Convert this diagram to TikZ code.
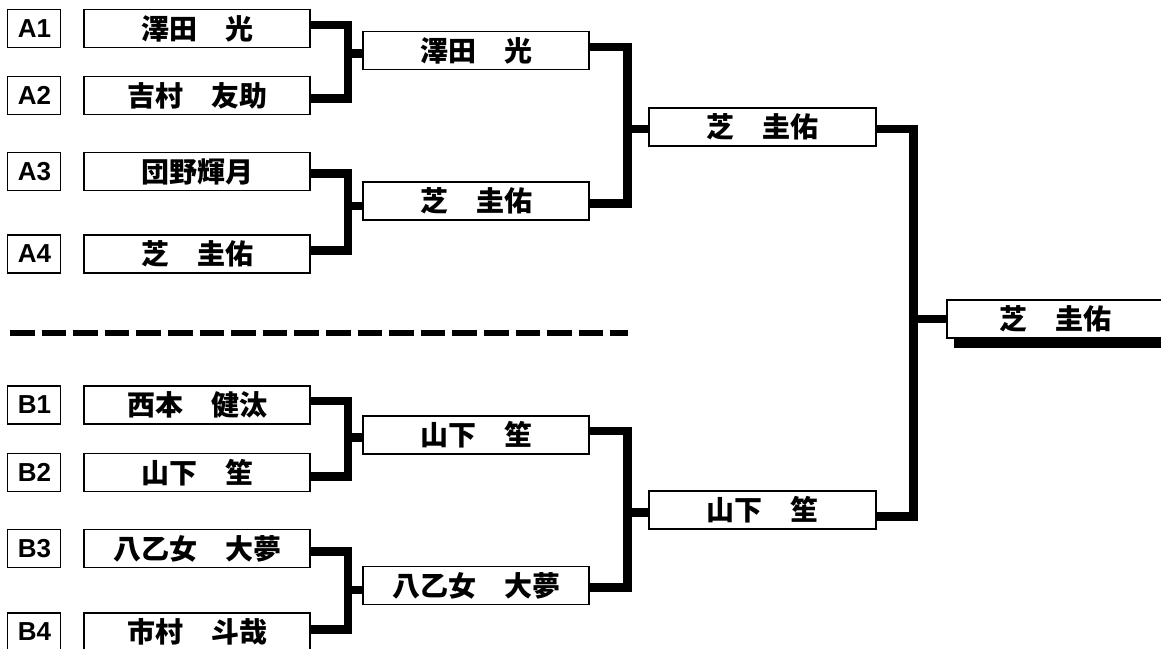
\documentclass[tikz,border=0pt]{standalone}
\usepackage{fontspec}
\setmainfont{Liberation Sans}
\newfontfamily\cjk{Noto Sans CJK JP}
\usetikzlibrary{positioning}

\begin{document}
\begin{tikzpicture}[x=1pt, y=-1pt]

    % Define block styles
    \tikzstyle{seed} = [rectangle, draw, line width=1.1pt, minimum width=53pt,
        minimum height=38pt, inner sep=0pt, text depth=0pt,
        font=\bfseries\fontsize{26pt}{26pt}\selectfont]
    \tikzstyle{player} = [rectangle, draw, line width=1.1pt, minimum width=226pt,
        minimum height=38pt, inner sep=0pt, font=\cjk\bfseries\fontsize{28pt}{28pt}\selectfont]
    \tikzstyle{conn} = [draw, line width=8.5pt, line join=miter]

    \useasboundingbox (0,0) rectangle (1161,648);

    % First round
    \node [player] (a1) at (197,28.5) {澤田　光};
    \node [player] (a2) at (197,95.5) {吉村　友助};
    \node [player] (a3) at (197,171.5) {団野輝月};
    \node [player] (a4) at (197,254) {芝　圭佑};
    \node [player] (b1) at (197,405) {西本　健汰};
    \node [player] (b2) at (197,472.5) {山下　笙};
    \node [player] (b3) at (197,548.5) {八乙女　大夢};
    \node [player] (b4) at (197,632) {市村　斗哉};

    \node [seed, left=22pt of a1] (sa1) {A1};
    \node [seed, left=22pt of a2] (sa2) {A2};
    \node [seed, left=22pt of a3] (sa3) {A3};
    \node [seed, left=22pt of a4] (sa4) {A4};
    \node [seed, left=22pt of b1] (sb1) {B1};
    \node [seed, left=22pt of b2] (sb2) {B2};
    \node [seed, left=22pt of b3] (sb3) {B3};
    \node [seed, left=22pt of b4] (sb4) {B4};

    % Second round
    \node [player] (s1) at (476,50.5) {澤田　光};
    \node [player] (s2) at (476,201) {芝　圭佑};
    \node [player] (s3) at (476,435) {山下　笙};
    \node [player] (s4) at (476,585.5) {八乙女　大夢};

    % Semifinal and final
    \node [player, minimum width=227pt] (f1) at (762.5,127) {芝　圭佑};
    \node [player, minimum width=227pt] (f2) at (762.5,510) {山下　笙};
    \node [player, minimum width=216pt] (win) at (1055,319) {芝　圭佑};
    \path [draw, line width=9pt] ([xshift=8pt, yshift=-4.5pt]win.south west)
        -- ([xshift=20pt, yshift=-4.5pt]win.south east);

    % Junctions
    \coordinate (ja1) at (348,53.5);
    \coordinate (ja2) at (348,206);
    \coordinate (jb1) at (348,437.5);
    \coordinate (jb2) at (348,590);
    \coordinate (jsa) at (627.5,129);
    \coordinate (jsb) at (627.5,512.5);
    \coordinate (jfin) at (913.5,319);

    % Draw edges
    \path [conn] ([yshift=3.5pt]a1.east) -| (ja1) |- ([yshift=-3pt]a2.east);
    \path [conn] (ja1) -- (ja1 -| s1.west);
    \path [conn] ([yshift=-2pt]a3.east) -| (ja2) |- ([yshift=3.5pt]a4.east);
    \path [conn] (ja2) -- (ja2 -| s2.west);
    \path [conn] ([yshift=4pt]b1.east) -| (jb1) |- ([yshift=-4pt]b2.east);
    \path [conn] (jb1) -- (jb1 -| s3.west);
    \path [conn] ([yshift=-3pt]b3.east) -| (jb2) |- ([yshift=2.5pt]b4.east);
    \path [conn] (jb2) -- (jb2 -| s4.west);

    \path [conn] ([yshift=3.5pt]s1.east) -| (jsa) |- ([yshift=-2.5pt]s2.east);
    \path [conn] (jsa) -- (jsa -| f1.west);
    \path [conn] ([yshift=4pt]s3.east) -| (jsb) |- ([yshift=-2pt]s4.east);
    \path [conn] (jsb) -- (jsb -| f2.west);

    \path [conn] ([yshift=-2pt]f1.east) -| (jfin) |- ([yshift=-6.5pt]f2.east);
    \path [conn] (jfin) -- (win.west);

    % Block divider
    \coordinate (divl) at (10,333);
    \coordinate (divr) at (628,333);
    \draw [line width=6pt, dash pattern=on 24.6pt off 7pt] (divl) -- (divr);

\end{tikzpicture}
\end{document}
